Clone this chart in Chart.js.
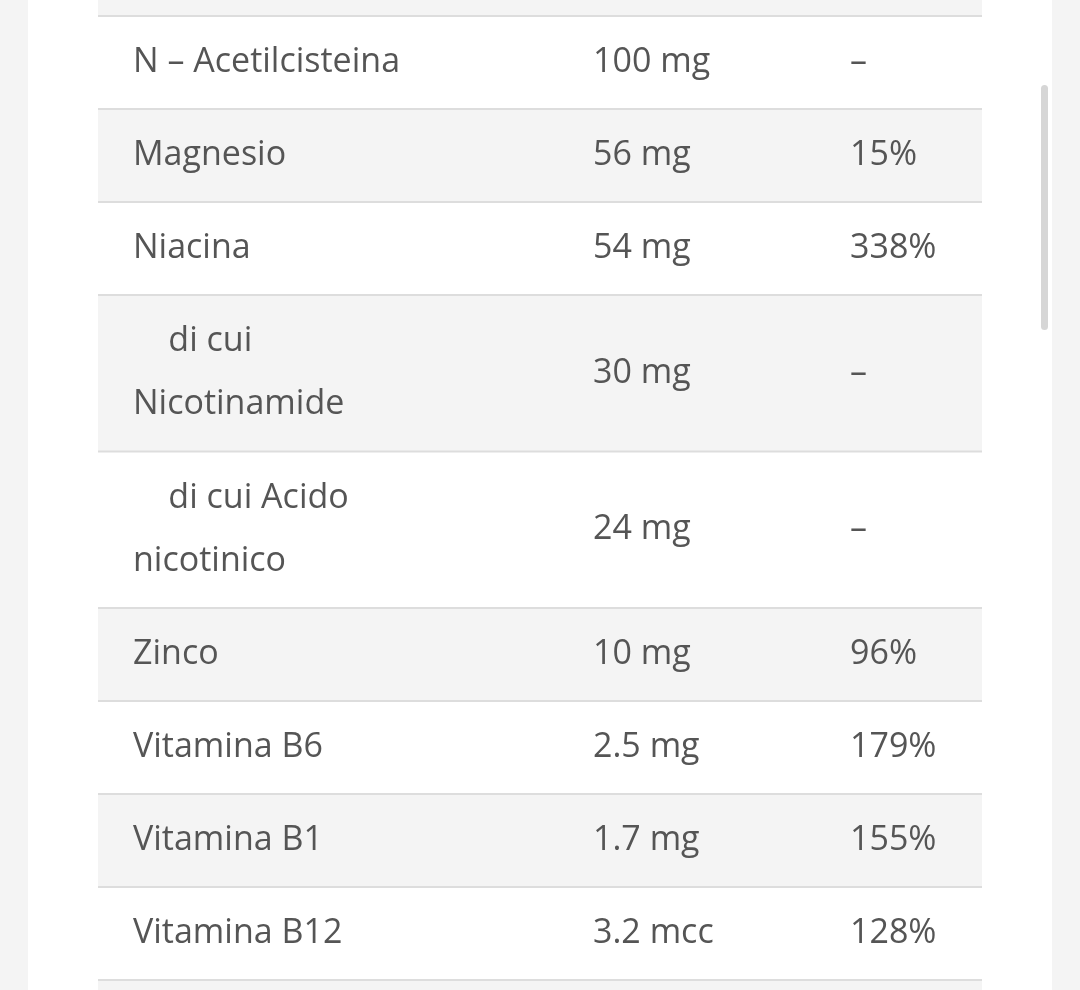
<!DOCTYPE html>
<html><head><meta charset="utf-8">
<script src="https://cdn.jsdelivr.net/npm/chart.js@4/dist/chart.umd.min.js"></script>
<style>html,body{margin:0;padding:0;background:#f4f4f4;}canvas{display:block;}</style>
</head><body>
<canvas id="c" width="1080" height="990"></canvas>
<script>
const names = ["N – Acetilcisteina","Magnesio","Niacina","    di cui\nNicotinamide","    di cui Acido\nnicotinico","Zinco","Vitamina B6","Vitamina B1","Vitamina B12"];
const amounts = ["100 mg","56 mg","54 mg","30 mg","24 mg","10 mg","2.5 mg","1.7 mg","3.2 mcc"];
const percents = ["–","15%","338%","–","–","96%","179%","155%","128%"];
const rowLines = [1,1,1,2,2,1,1,1,1];

const top0 = 16, oneH = 93, twoH = 156.5;
const bounds = [top0];
rowLines.forEach(l => bounds.push(bounds[bounds.length-1] + (l === 2 ? twoH : oneH)));
const centers = rowLines.map((l,i) => (bounds[i]+bounds[i+1])/2);

const tablePlugin = {
  id:'table',
  beforeDatasetsDraw(chart){
    const {ctx, scales:{x,y}} = chart;
    const px = v => x.getPixelForValue(v), py = v => y.getPixelForValue(v);
    ctx.save();
    ctx.fillStyle='#f4f4f4'; ctx.fillRect(0,0,1080,990);
    ctx.fillStyle='#ffffff'; ctx.fillRect(px(28),0,px(1052)-px(28),990);
    // stripes
    ctx.fillStyle='#f4f4f4';
    ctx.fillRect(px(98),py(0),px(982)-px(98),py(top0)-py(0));
    rowLines.forEach((l,i)=>{ if(i%2===1){ ctx.fillRect(px(98),py(bounds[i]),px(982)-px(98),py(bounds[i+1])-py(bounds[i])); }});
    ctx.fillRect(px(98),py(bounds[bounds.length-1]),px(982)-px(98),py(990)-py(bounds[bounds.length-1]));
    ctx.strokeStyle='#dddddd'; ctx.lineWidth=2;
    bounds.forEach(b=>{ ctx.beginPath(); ctx.moveTo(px(98),py(b)); ctx.lineTo(px(982),py(b)); ctx.stroke(); });
    // scrollbar
    ctx.fillStyle='#d6d6d6';
    ctx.beginPath(); ctx.roundRect(px(1041),py(85),7,245,4); ctx.fill();
    // text
    ctx.fillStyle='#555555'; ctx.font='34px "Open Sans", Lato, sans-serif'; ctx.textBaseline='middle';
    const cols=[names,amounts,percents], xs=[133,593,850];
    cols.forEach((arr,c)=>arr.forEach((t,i)=>{
      const lines=t.split('\n');
      lines.forEach((ln,k)=>{
        const off=(k-(lines.length-1)/2)*63;
        ctx.fillText(ln, px(xs[c]), py(centers[i]+off));
      });
    }));
    ctx.restore();
  }
};

new Chart(document.getElementById('c'),{
  type:'scatter',
  data:{datasets:[{data:centers.map(c=>({x:133,y:c})),pointRadius:0}]},
  options:{
    responsive:false,animation:false,
    layout:{padding:0},
    plugins:{legend:{display:false},tooltip:{enabled:false}},
    scales:{
      x:{type:'linear',min:0,max:1080,display:false},
      y:{type:'linear',min:0,max:990,reverse:true,display:false}
    }
  },
  plugins:[tablePlugin]
});
</script>
</body></html>
